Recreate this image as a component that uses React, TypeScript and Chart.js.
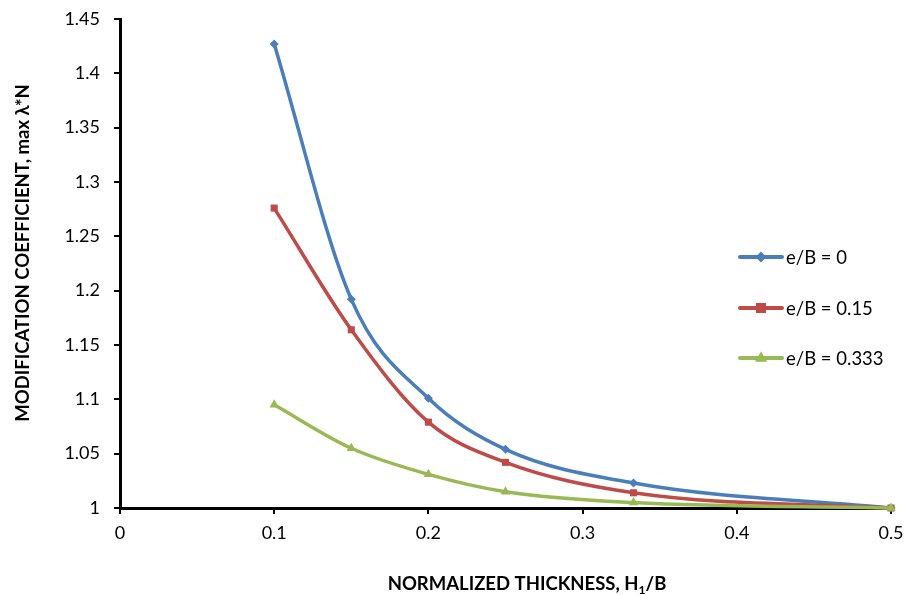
import React, { useEffect, useRef } from 'react';
import { Chart, registerables } from 'chart.js';
Chart.register(...registerables);

const xValues = [0.1, 0.15, 0.2, 0.25, 0.333, 0.5];
const seriesLabels = ['e/B = 0', 'e/B = 0.15', 'e/B = 0.333'];
const eB0 = [1.427, 1.192, 1.101, 1.054, 1.023, 1.0];
const eB015 = [1.276, 1.164, 1.079, 1.042, 1.014, 1.0];
const eB0333 = [1.095, 1.055, 1.031, 1.015, 1.005, 1.0];
const xTitleParts = ['NORMALIZED THICKNESS, H', '1', '/B'];
const yTitle = 'MODIFICATION COEFFICIENT, max \u03BB*N';

const colors = ['#4A7EBB', '#BE4B48', '#98B954'];
const pointStyles = ['rectRot', 'rect', 'triangle'];
const pointRadii = [4.5, 5, 5.5];
const FONT = 'Lato, "Open Sans", "DejaVu Sans", sans-serif';

function drawMarker(ctx: CanvasRenderingContext2D, style: string, x: number, y: number, r: number) {
  ctx.beginPath();
  if (style === 'rectRot') {
    ctx.moveTo(x, y - r * 1.2);
    ctx.lineTo(x + r * 1.2, y);
    ctx.lineTo(x, y + r * 1.2);
    ctx.lineTo(x - r * 1.2, y);
  } else if (style === 'rect') {
    ctx.rect(x - r, y - r, 2 * r, 2 * r);
  } else {
    ctx.moveTo(x, y - r * 1.2);
    ctx.lineTo(x + r * 1.1, y + r * 0.7);
    ctx.lineTo(x - r * 1.1, y + r * 0.7);
  }
  ctx.closePath();
  ctx.fill();
}

const legendPlugin = {
  id: 'customLegend',
  afterDraw(chart: any) {
    const ctx = chart.ctx as CanvasRenderingContext2D;
    const rowsY = [257, 308, 358];
    ctx.save();
    chart.data.datasets.forEach((ds: any, i: number) => {
      const y = rowsY[i];
      ctx.strokeStyle = ds.borderColor;
      ctx.fillStyle = ds.borderColor;
      ctx.lineWidth = 4;
      ctx.lineCap = 'round';
      ctx.beginPath();
      ctx.moveTo(740, y);
      ctx.lineTo(782, y);
      ctx.stroke();
      drawMarker(ctx, pointStyles[i], 761, y, pointRadii[i]);
      ctx.fillStyle = '#000';
      ctx.font = `18.5px ${FONT}`;
      ctx.textAlign = 'left';
      ctx.textBaseline = 'middle';
      ctx.fillText(ds.label, 786, y + 1);
    });
    ctx.restore();
  },
};

const titlesPlugin = {
  id: 'axisTitles',
  afterDraw(chart: any) {
    const ctx = chart.ctx as CanvasRenderingContext2D;
    ctx.save();
    ctx.fillStyle = '#000';
    const big = `bold 18.5px ${FONT}`;
    const small = `bold 12px ${FONT}`;
    // x title with subscript
    ctx.font = big;
    const w0 = ctx.measureText(xTitleParts[0]).width;
    const w2 = ctx.measureText(xTitleParts[2]).width;
    ctx.font = small;
    const w1 = ctx.measureText(xTitleParts[1]).width;
    const total = w0 + w1 + w2;
    const cx = 527;
    const cy = 584;
    let x = cx - total / 2;
    ctx.textBaseline = 'middle';
    ctx.textAlign = 'left';
    ctx.font = big;
    ctx.fillText(xTitleParts[0], x, cy);
    x += w0;
    ctx.font = small;
    ctx.fillText(xTitleParts[1], x, cy + 6);
    x += w1;
    ctx.font = big;
    ctx.fillText(xTitleParts[2], x, cy);
    // y title rotated
    ctx.translate(23, 253);
    ctx.rotate(-Math.PI / 2);
    ctx.textAlign = 'center';
    ctx.font = big;
    ctx.fillText(yTitle, 0, 0);
    ctx.restore();
  },
};

export default function App() {
  const ref = useRef<HTMLCanvasElement>(null);
  useEffect(() => {
    if (!ref.current) return;
    const series = [eB0, eB015, eB0333];
    const chart = new Chart(ref.current, {
      type: 'line',
      data: {
        datasets: series.map((vals, i) => ({
          label: seriesLabels[i],
          data: vals.map((v, j) => ({ x: xValues[j], y: v })),
          borderColor: colors[i],
          backgroundColor: colors[i],
          borderWidth: 3.5,
          pointStyle: pointStyles[i] as any,
          pointRadius: pointRadii[i],
          pointBorderWidth: 0,
          cubicInterpolationMode: 'monotone' as const,
          clip: false as any,
          order: 3 - i,
        })),
      },
      options: {
        animation: false,
        responsive: false,
        maintainAspectRatio: false,
        layout: { padding: { top: 19, right: 22, left: 0, bottom: 0 } },
        plugins: { legend: { display: false }, tooltip: { enabled: false } },
        scales: {
          x: {
            type: 'linear',
            min: 0,
            max: 0.5,
            ticks: {
              stepSize: 0.1,
              color: '#000',
              font: { family: FONT, size: 18 },
              padding: 8,
              callback: (v: any) => String(Number(Number(v).toFixed(2))),
            },
            grid: { drawOnChartArea: false, color: '#000', lineWidth: 2, tickLength: 6 },
            border: { color: '#000', width: 3 },
            afterFit: (scale: any) => {
              scale.height = 87;
              scale.paddingLeft = 6;
              scale.paddingRight = 14;
            },
          },
          y: {
            type: 'linear',
            min: 1,
            max: 1.45,
            ticks: {
              stepSize: 0.05,
              color: '#000',
              font: { family: FONT, size: 18 },
              padding: 14,
              callback: (v: any) => String(Number(Number(v).toFixed(2))),
            },
            grid: { drawOnChartArea: false, color: '#000', lineWidth: 2, tickLength: 6 },
            border: { color: '#000', width: 3 },
            afterFit: (scale: any) => {
              scale.width = 120;
              scale.paddingTop = 10;
              scale.paddingBottom = 10;
            },
          },
        },
      },
      plugins: [legendPlugin, titlesPlugin],
    });
    return () => chart.destroy();
  }, []);
  return (
    <div style={{ position: 'absolute', left: 0, top: 0, width: 913, height: 595, background: '#fff' }}>
      <canvas ref={ref} width={913} height={595} style={{ display: 'block' }} />
    </div>
  );
}
